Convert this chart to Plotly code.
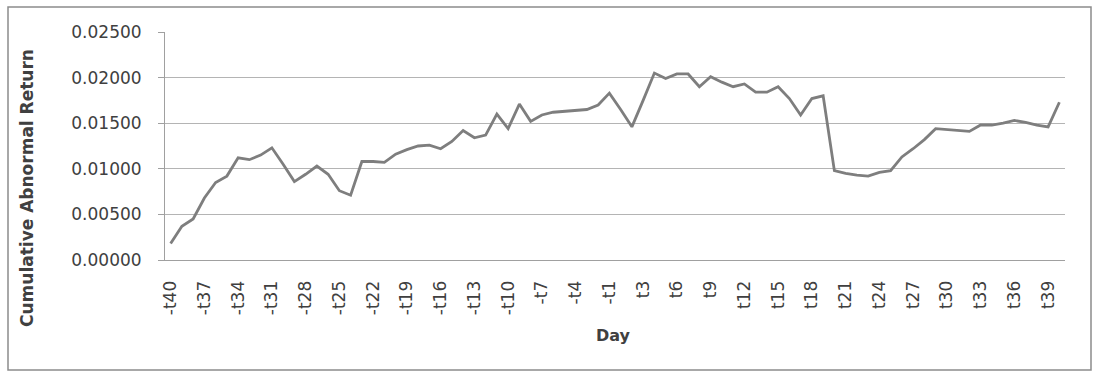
import plotly.graph_objects as go

# Event-window days: t-40 .. t-1, then t1 .. t40 (no day zero)
days = [f"-t{d}" for d in range(40, 0, -1)] + [f"t{d}" for d in range(1, 41)]

# Cumulative abnormal return per day
car = [
    0.0018, 0.0037, 0.0045, 0.0068, 0.0085, 0.0092, 0.0112, 0.0110, 0.0115, 0.0123,
    0.0105, 0.0086, 0.0094, 0.0103, 0.0094, 0.0076, 0.0071, 0.0108, 0.0108, 0.0107,
    0.0116, 0.0121, 0.0125, 0.0126, 0.0122, 0.0130, 0.0142, 0.0134, 0.0137, 0.0160,
    0.0144, 0.0171, 0.0152, 0.0159, 0.0162, 0.0163, 0.0164, 0.0165, 0.0170, 0.0183,
    0.0165, 0.0146, 0.0175, 0.0205, 0.0199, 0.0204, 0.0204, 0.0190, 0.0201, 0.0195,
    0.0190, 0.0193, 0.0184, 0.0184, 0.0190, 0.0177, 0.0159, 0.0177, 0.0180, 0.0098,
    0.0095, 0.0093, 0.0092, 0.0096, 0.0098, 0.0113, 0.0122, 0.0132, 0.0144, 0.0143,
    0.0142, 0.0141, 0.0148, 0.0148, 0.0150, 0.0153, 0.0151, 0.0148, 0.0146, 0.0173,
]

# Every third day is labelled on the category axis
tick_days = days[::3]
y_ticks = [0.0, 0.005, 0.010, 0.015, 0.020, 0.025]

FONT = "DejaVu Sans"
TEXT = "#404040"
GRID = "#b4b4b4"
AXIS = "#a0a0a0"

fig = go.Figure(
    go.Scatter(
        x=days,
        y=car,
        mode="lines",
        line=dict(color="#7e7e7e", width=2.8),
        hoverinfo="x+y",
    )
)

W, H = 1094, 374
L, R, T, B = 165, 29, 32, 114
pw, ph = W - L - R, H - T - B


def px_x(x):
    return (x - L) / pw


def px_y(y):
    return (H - B - y) / ph


fig.update_layout(
    width=W,
    height=H,
    margin=dict(l=L, r=R, t=T, b=B, pad=0),
    paper_bgcolor="white",
    plot_bgcolor="white",
    showlegend=False,
    font=dict(family=FONT, color=TEXT, size=17),
    xaxis=dict(
        type="category",
        categoryorder="array",
        categoryarray=days,
        range=[-0.5, len(days) - 0.5],
        tickmode="array",
        tickvals=tick_days,
        ticktext=tick_days,
        tickangle=-90,
        tickfont=dict(family=FONT, size=17, color=TEXT),
        ticklabelstandoff=13,
        showgrid=False,
        showline=True,
        linecolor=AXIS,
        linewidth=1,
        ticks="",
        zeroline=False,
    ),
    yaxis=dict(
        range=[0, 0.025],
        tickmode="array",
        tickvals=y_ticks,
        tickformat=".5f",
        tickfont=dict(family=FONT, size=17, color=TEXT),
        ticklabelstandoff=13,
        showgrid=True,
        gridcolor=GRID,
        gridwidth=1,
        showline=True,
        linecolor=AXIS,
        linewidth=1,
        ticks="outside",
        ticklen=6,
        tickcolor=AXIS,
        zeroline=False,
    ),
    shapes=[
        dict(
            type="rect",
            xref="paper",
            yref="paper",
            x0=px_x(8),
            x1=px_x(1091),
            y0=px_y(370),
            y1=px_y(7),
            line=dict(color="#8c8c8c", width=1.5),
            fillcolor="rgba(0,0,0,0)",
            layer="below",
        )
    ],
    annotations=[
        dict(
            text="<b>Cumulative Abnormal Return</b>",
            xref="paper",
            yref="paper",
            x=px_x(27),
            y=px_y(188),
            textangle=-90,
            showarrow=False,
            font=dict(family=FONT, size=17, color=TEXT),
            xanchor="center",
            yanchor="middle",
        ),
        dict(
            text="<b>Day</b>",
            xref="paper",
            yref="paper",
            x=px_x(613),
            y=px_y(335),
            showarrow=False,
            font=dict(family=FONT, size=16, color=TEXT),
            xanchor="center",
            yanchor="middle",
        ),
    ],
)

fig.write_html("out.html")
